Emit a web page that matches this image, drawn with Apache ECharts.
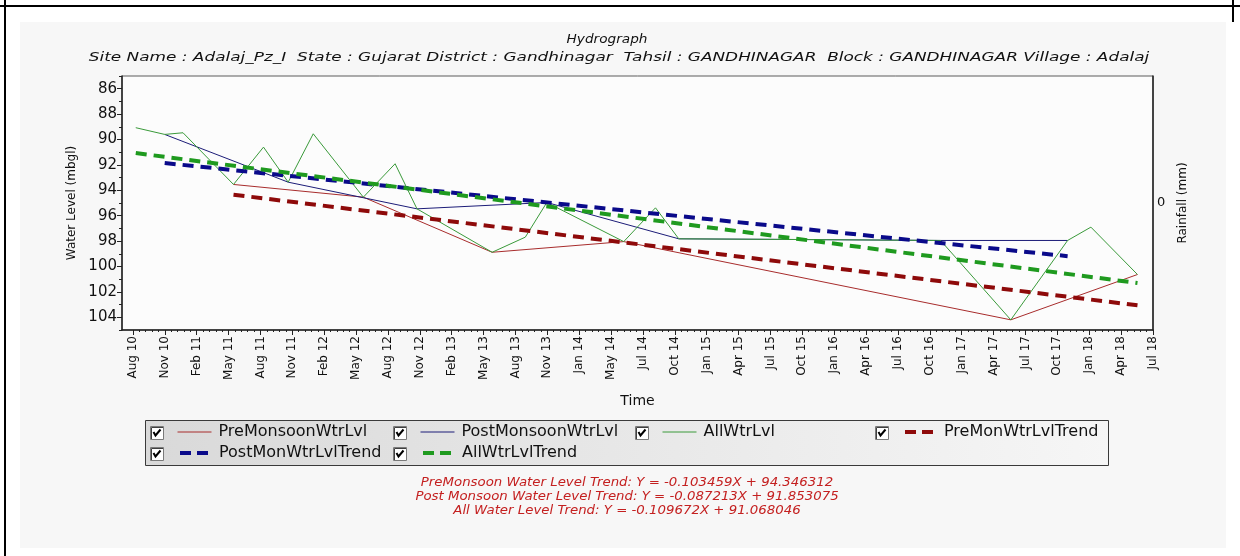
<!DOCTYPE html>
<html>
<head>
<meta charset="utf-8">
<title>Hydrograph</title>
<script src="https://cdn.jsdelivr.net/npm/echarts@6/dist/echarts.min.js"></script>
<style>
  html, body { margin: 0; padding: 0; background: #ffffff; }
  #chart { width: 1240px; height: 556px; }
</style>
</head>
<body>
<div id="chart"></div>
<script>
// ---- Observations: depth to water level, metres below ground level ----
const preDates = ['2011-05-27', '2012-05-29', '2013-05-29', '2014-06-06', '2017-06-07', '2018-06-01'];
const preLevels = [93.54, 94.54, 98.88, 98.04, 104.2, 100.63];

const postDates = ['2010-11-13', '2011-10-29', '2012-10-28', '2013-10-31', '2014-11-09', '2015-11-09', '2016-11-20', '2017-11-15'];
const postLevels = [89.6, 93.36, 95.46, 94.96, 97.82, 97.88, 97.95, 97.95];

const allDates = ['2010-08-23', '2010-11-13', '2011-01-04', '2011-05-27', '2011-08-20', '2011-10-29',
                  '2012-01-08', '2012-05-29', '2012-08-27', '2012-10-28', '2013-05-29', '2013-08-31',
                  '2013-10-31', '2014-06-06', '2014-09-04', '2014-11-09', '2015-11-09', '2016-11-20',
                  '2017-06-07', '2017-11-15', '2018-01-20', '2018-06-01'];
const allLevels = [89.07, 89.6, 89.47, 93.54, 90.6, 93.36,
                   89.55, 94.54, 91.91, 95.46, 98.88, 97.69,
                   94.96, 98.04, 95.38, 97.82, 97.88, 97.95,
                   104.2, 97.95, 96.9, 100.63];

// ---- Linear trends (X = months since the first reading of each series) ----
const trendNames = ['PreMonsoon Water Level Trend', 'Post Monsoon Water Level Trend', 'All Water Level Trend'];
const trendSlopes = [-0.103459, -0.087213, -0.109672];
const trendIntercepts = [94.346312, 91.853075, 91.068046];

// ---- Axis ticks ----
const timeTicks = ['Aug 10', 'Nov 10', 'Feb 11', 'May 11', 'Aug 11', 'Nov 11', 'Feb 12', 'May 12',
                   'Aug 12', 'Nov 12', 'Feb 13', 'May 13', 'Aug 13', 'Nov 13', 'Jan 14', 'May 14',
                   'Jul 14', 'Oct 14', 'Jan 15', 'Apr 15', 'Jul 15', 'Oct 15', 'Jan 16', 'Apr 16',
                   'Jul 16', 'Oct 16', 'Jan 17', 'Apr 17', 'Jul 17', 'Oct 17', 'Jan 18', 'Apr 18', 'Jul 18'];
const depthTicks = [86, 88, 90, 92, 94, 96, 98, 100, 102, 104];

const seriesNames = ['PreMonsoonWtrLvl', 'PostMonsoonWtrLvl', 'AllWtrLvl',
                     'PreMonWtrLvlTrend', 'PostMonWtrLvlTrend', 'AllWtrLvlTrend'];
const seriesColors = ['#a82c2c', '#1c1c78', '#3a9a3a', '#8e0a0a', '#0a0a8a', '#1f9a1f'];

const FONT = '"DejaVu Sans", "Liberation Sans", Arial, sans-serif';
const DAY = 86400000;
const MONTH_DAYS = 30.4375;
const toTime = s => Date.parse(s + 'T00:00:00Z');

// time axis: labelled ticks are evenly spaced from the first to the last label
const firstTick = toTime('2010-08-15');
const lastTick = toTime('2018-07-15');
const tickStep = (lastTick - firstTick) / (timeTicks.length - 1);
const majorTimes = timeTicks.map((_, i) => firstTick + i * tickStep);
const minorTimes = [];
for (let i = 0; i < timeTicks.length - 1; i++) {
  for (let k = 1; k < 5; k++) minorTimes.push(firstTick + (i + k / 5) * tickStep);
}
const xMin = toTime('2010-07-15');

const minorDepths = [];
for (let v = 85; v <= 105; v += 1) if (depthTicks.indexOf(v) < 0) minorDepths.push(v);

const pairs = (dates, values) => dates.map((d, i) => [toTime(d), values[i]]);

// trend drawn between the first and last reading; slope is quoted as a change in level,
// so the depth below ground grows by -slope each month
function trendLine(dates, idx) {
  const t0 = toTime(dates[0]);
  const t1 = toTime(dates[dates.length - 1]);
  const months = (t1 - t0) / DAY / MONTH_DAYS;
  return [[t0, trendIntercepts[idx]], [t1, trendIntercepts[idx] - trendSlopes[idx] * months]];
}

const trendText = trendNames.map((n, i) =>
  n + ': Y = ' + trendSlopes[i].toFixed(6) + 'X + ' + trendIntercepts[i].toFixed(6));

function thinSeries(i, data) {
  return {
    name: seriesNames[i], type: 'line', data: data, symbol: 'none', silent: true,
    lineStyle: { color: seriesColors[i], width: 1 }, itemStyle: { color: seriesColors[i] },
    animation: false
  };
}
function trendSeries(i, data) {
  return {
    name: seriesNames[i], type: 'line', data: data, symbol: 'none', silent: true,
    lineStyle: { color: seriesColors[i], width: 4, type: [11, 7] }, itemStyle: { color: seriesColors[i] },
    animation: false
  };
}

// legend grid: each entry sits in its own cell
const legendCells = [
  { col: 0, row: 0 }, { col: 1, row: 0 }, { col: 2, row: 0 },
  { col: 3, row: 0 }, { col: 0, row: 1 }, { col: 1, row: 1 }
];
const legendColX = [150, 393, 635, 875];
const legendRowY = [432, 453];

const legends = seriesNames.map((name, i) => {
  const dashed = i >= 3;
  return {
    data: [name],
    left: legendColX[legendCells[i].col] + (dashed ? 28 : 27),
    top: legendRowY[legendCells[i].row] - 8,
    orient: 'horizontal',
    padding: 0,
    itemWidth: dashed ? 28 : 34,
    itemHeight: 16,
    itemGap: 0,
    selectedMode: false,
    itemStyle: { opacity: 0 },
    lineStyle: dashed ? { width: 4, type: [11, 6] } : { width: 1 },
    textStyle: { fontFamily: FONT, fontSize: 16, color: '#111', padding: [0, 0, 0, dashed ? 6 : 2] }
  };
});

const line = (x1, y1, x2, y2) => ({ type: 'line', silent: true, shape: { x1, y1, x2, y2 },
  style: { stroke: '#000', lineWidth: 2 } });

// free text, widened horizontally like the rest of the lettering
const wideText = (x, y, text, font, fill, sx) => ({
  type: 'text', silent: true, x: x, y: y, scaleX: sx,
  style: { x: 0, y: 0, text: text, align: 'center', verticalAlign: 'middle', font: font, fill: fill }
});

const graphics = [
  // page panel and frame
  { type: 'rect', z: -10, silent: true, shape: { x: 20, y: 22, width: 1206, height: 526 }, style: { fill: '#f7f7f7' } },
  line(0, 6, 1240, 6),
  line(5, 0, 5, 556),
  line(1233, 0, 1233, 22),
  // legend box
  {
    type: 'rect', z: 1, silent: true,
    shape: { x: 145.5, y: 420.5, width: 963, height: 45 },
    style: {
      fill: new echarts.graphic.LinearGradient(0, 0, 1, 0, [
        { offset: 0, color: '#d9d9d9' }, { offset: 1, color: '#f6f6f6' }
      ]),
      stroke: '#3a3a3a', lineWidth: 1
    }
  },
  // titles
  wideText(607, 40, 'Hydrograph', 'italic 13px ' + FONT, '#111', 1.05),
  wideText(619, 58,
    'Site Name : Adalaj_Pz_I  State : Gujarat District : Gandhinagar  Tahsil : GANDHINAGAR  Block : GANDHINAGAR Village : Adalaj',
    'italic 13px ' + FONT, '#111', 1.3)
];

// checkboxes in front of each legend entry
seriesNames.forEach((_, i) => {
  const x = legendColX[legendCells[i].col];
  const y = legendRowY[legendCells[i].row] - 6;
  graphics.push({ type: 'rect', z: 2, silent: true, shape: { x: x + 0.5, y: y + 0.5, width: 13, height: 13 },
    style: { fill: '#ffffff', stroke: '#7a7a7a', lineWidth: 1 } });
  graphics.push({ type: 'polyline', z: 2, silent: true,
    shape: { points: [[x + 1.5, y + 13], [x + 1.5, y + 1.5], [x + 13, y + 1.5]] },
    style: { stroke: '#404040', lineWidth: 1, fill: null } });
  graphics.push({ type: 'polyline', z: 3, silent: true,
    shape: { points: [[x + 3.5, y + 6], [x + 5.5, y + 9.5], [x + 10.5, y + 3.5]] },
    style: { stroke: '#000', lineWidth: 2, fill: null } });
});

// trend equations
trendText.forEach((t, i) => {
  graphics.push(wideText(627, 483 + i * 14, t, 'italic 12px ' + FONT, '#c42020', 1.11));
});

const chart = echarts.init(document.getElementById('chart'), null, { renderer: 'canvas' });
chart.setOption({
  backgroundColor: '#ffffff',
  animation: false,
  textStyle: { fontFamily: FONT },
  grid: {
    left: 122, top: 76, width: 1031, height: 254, show: true,
    backgroundColor: '#fcfcfc', borderColor: '#5a5a5a', borderWidth: 1
  },
  legend: legends,
  graphic: graphics,
  xAxis: [{
    type: 'value', min: xMin, max: lastTick,
    name: 'Time', nameLocation: 'middle', nameGap: 64,
    nameTextStyle: { fontFamily: FONT, fontSize: 14, color: '#111' },
    axisLine: { show: true, onZero: false, lineStyle: { color: '#222', width: 1.5 } },
    axisTick: { show: true, length: 5, customValues: majorTimes, lineStyle: { color: '#222' } },
    axisLabel: {
      customValues: majorTimes, rotate: 90, margin: 6, fontSize: 12, color: '#111', fontFamily: FONT,
      formatter: v => timeTicks[Math.round((v - firstTick) / tickStep)] || ''
    },
    splitLine: { show: false }
  }, {
    type: 'value', min: xMin, max: lastTick, position: 'bottom',
    axisLine: { show: false, onZero: false },
    axisTick: { show: true, length: 2, customValues: minorTimes, lineStyle: { color: '#222' } },
    axisLabel: { show: false },
    splitLine: { show: false }
  }],
  yAxis: [{
    type: 'value', inverse: true, min: 85, max: 105,
    name: 'Water Level (mbgl)', nameLocation: 'middle', nameGap: 42, nameRotate: 90,
    nameTextStyle: { fontFamily: FONT, fontSize: 12, color: '#111' },
    axisLine: { show: true, onZero: false, lineStyle: { color: '#222', width: 1.5 } },
    axisTick: { show: true, length: 5, customValues: depthTicks, lineStyle: { color: '#222' } },
    axisLabel: { customValues: depthTicks, fontSize: 15, margin: 5, color: '#111', fontFamily: FONT },
    splitLine: { show: false }
  }, {
    type: 'value', inverse: true, min: 85, max: 105, position: 'left',
    axisLine: { show: false, onZero: false },
    axisTick: { show: true, length: 3, customValues: minorDepths, lineStyle: { color: '#222' } },
    axisLabel: { show: false },
    splitLine: { show: false }
  }, {
    type: 'value', min: -1, max: 1, position: 'right',
    name: 'Rainfall (mm)', nameLocation: 'middle', nameGap: 24, nameRotate: 90,
    nameTextStyle: { fontFamily: FONT, fontSize: 12, color: '#111' },
    axisLine: { show: true, onZero: false, lineStyle: { color: '#222', width: 1.5 } },
    axisTick: { show: false },
    axisLabel: { customValues: [0], fontSize: 13, margin: 4, color: '#111', fontFamily: FONT },
    splitLine: { show: false }
  }],
  series: [
    thinSeries(0, pairs(preDates, preLevels)),
    thinSeries(1, pairs(postDates, postLevels)),
    thinSeries(2, pairs(allDates, allLevels)),
    trendSeries(3, trendLine(preDates, 0)),
    trendSeries(4, trendLine(postDates, 1)),
    trendSeries(5, trendLine(allDates, 2))
  ]
});
</script>
</body>
</html>
